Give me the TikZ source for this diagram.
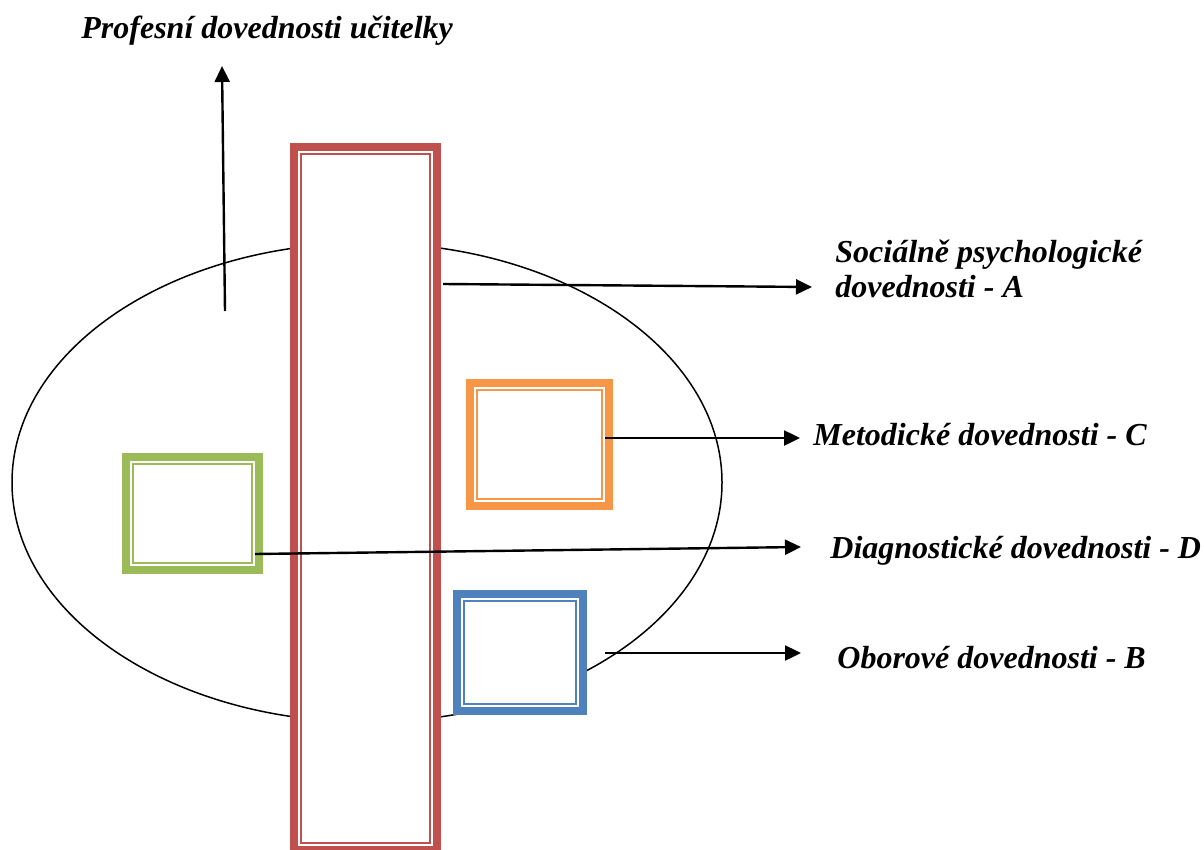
\documentclass[tikz,border=0pt]{standalone}
\usepackage{fontspec}
\setmainfont{Liberation Serif}
\usetikzlibrary{arrows.meta,shapes.geometric,calc}
\definecolor{cred}{HTML}{C0504D}
\definecolor{cgreen}{HTML}{9BBB59}
\definecolor{corange}{HTML}{F79646}
\definecolor{cblue}{HTML}{4F81BD}
\tikzset{
  dbox/.style={draw=#1, line width=4pt, fill=white, inner sep=0pt, rectangle},
  thinbox/.style={draw=#1, line width=1.1pt},
  conn/.style={draw=black, line width=1.2pt, -{Triangle[length=8pt,width=7.5pt]}},
  lbl/.style={font=\fontsize{16pt}{17.5pt}\selectfont\bfseries\itshape, inner sep=0pt, anchor=base west, align=left}
}
\begin{document}
\begin{tikzpicture}[x=0.5pt,y=-0.5pt]
\useasboundingbox (0,0) rectangle (1204,850);
% ellipse
\node[draw, line width=0.75pt, ellipse, minimum width=355pt, minimum height=239.5pt, inner sep=0pt] (E) at (367,482.5) {};
% red tall rectangle
\node[dbox=cred, minimum width=71.5pt, minimum height=351.5pt] (R) at (365.5,498.5) {};
\draw[thinbox=cred] ([shift={(11,11)}]R.north west) rectangle ([shift={(-11,-11)}]R.south east);
% green box
\node[dbox=cgreen, minimum width=66.5pt, minimum height=56.5pt] (G) at (192.5,513.5) {};
\draw[thinbox=cgreen] ([shift={(11,11)}]G.north west) rectangle ([shift={(-11,-11)}]G.south east);
% orange box
\node[dbox=corange, minimum width=69.5pt, minimum height=61.5pt] (O) at (539.5,444.5) {};
\draw[thinbox=corange] ([shift={(11,11)}]O.north west) rectangle ([shift={(-11,-11)}]O.south east);
% blue box
\node[dbox=cblue, minimum width=63pt, minimum height=58.5pt] (B) at (520,652.5) {};
\draw[thinbox=cblue] ([shift={(11,11)}]B.north west) rectangle ([shift={(-11,-11)}]B.south east);
% labels
\node[lbl] (T) at (81,39) {Profesní dovednosti učitelky};
\node[lbl] (LA) at (835,298) {Sociálně psychologické\\dovednosti - A};
\node[lbl] (LC) at (813,445) {Metodické dovednosti - C};
\node[lbl] (LD) at (830,558) {Diagnostické dovednosti - D};
\node[lbl] (LB) at (837,668) {Oborové dovednosti - B};
% connector end points
\coordinate (u0) at (225,311);
\coordinate (u1) at (222,66);
\coordinate (a0) at (443,284);
\coordinate (a1) at (812,287);
\coordinate (c0) at (605,438);
\coordinate (c1) at (800,438);
\coordinate (d0) at (255,554);
\coordinate (d1) at (801,547);
\coordinate (b0) at (605,653);
\coordinate (b1) at (801,653);
% connectors
\draw[conn] (u0) -- (u1);
\draw[conn] (a0) -- (a1);
\draw[conn] (c0) -- (c1);
\draw[conn] (d0) -- (d1);
\draw[conn] (b0) -- (b1);
\end{tikzpicture}
\end{document}
